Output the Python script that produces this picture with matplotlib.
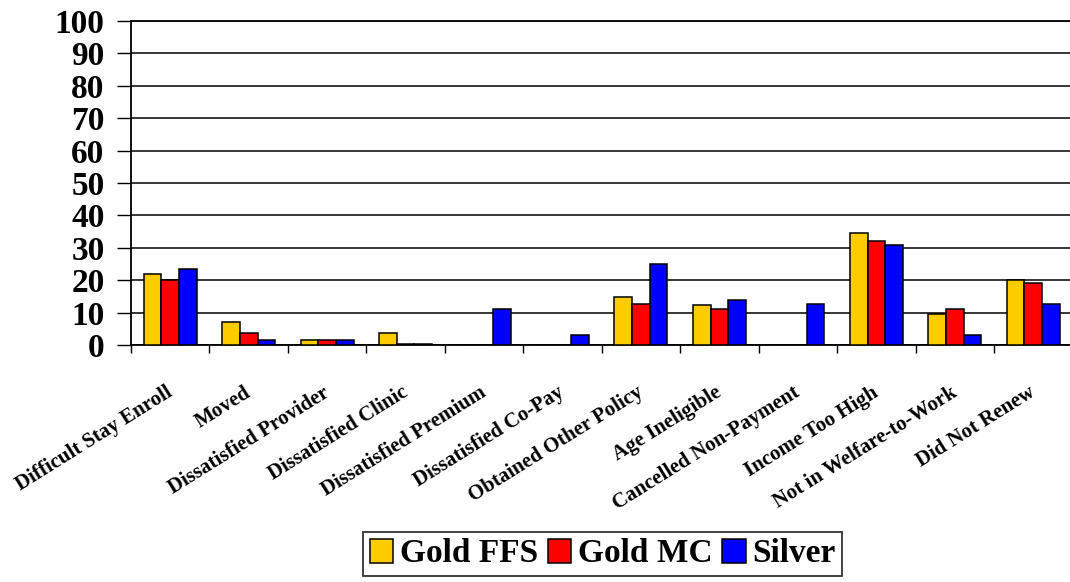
import numpy as np
import matplotlib.pyplot as plt
import matplotlib.transforms as mtransforms

# Reasons for leaving the program, percent by plan type
reasons = ["Difficult Stay Enroll", "Moved", "Dissatisfied Provider",
           "Dissatisfied Clinic", "Dissatisfied Premium", "Dissatisfied Co-Pay",
           "Obtained Other Policy", "Age Ineligible", "Cancelled Non-Payment",
           "Income Too High", "Not in Welfare-to-Work", "Did Not Renew"]
gold_ffs = [21.8, 7.0, 1.4, 3.6, 0.0, 0.0, 14.8, 12.2, 0.0, 34.6, 9.5, 20.0]
gold_mc = [20.0, 3.6, 1.4, 0.4, 0.0, 0.0, 12.7, 11.2, 0.0, 32.0, 11.2, 19.2]
silver = [23.4, 1.6, 1.4, 0.4, 11.2, 3.2, 24.9, 13.8, 12.7, 30.8, 3.2, 12.7]
series_names = ["Gold FFS", "Gold MC", "Silver"]
colors = ["#FFCC00", "#FF0000", "#0000FF"]

plt.rcParams['font.family'] = 'Liberation Serif'
plt.rcParams['font.weight'] = 'bold'

fig = plt.figure(figsize=(10.7, 5.82), dpi=100)
ax = fig.add_axes([131 / 1070, 1 - 345 / 582, 941.5 / 1070, 324 / 582])

x = np.arange(len(reasons))
w = 0.225
for k, (vals, name, c) in enumerate(zip([gold_ffs, gold_mc, silver], series_names, colors)):
    ax.bar(x + (k - 1) * w, vals, w, color=c, edgecolor='black', linewidth=1.1,
           label=name, zorder=3)

ax.set_xlim(-0.5, len(reasons) - 0.5)
ax.set_ylim(0, 100)
ax.set_yticks(np.arange(0, 101, 10))
ax.yaxis.grid(True, color='black', linewidth=1.1, zorder=0)

ax.tick_params(axis='y', direction='out', length=10, width=1, pad=9, labelsize=24)
ax.set_xticks(x)
ax.set_xticklabels(reasons, rotation=32, ha='right', rotation_mode='anchor',
                   fontsize=15)
ax.tick_params(axis='x', which='major', length=0, pad=27)
# nudge the slanted labels a little to the left
shift = mtransforms.ScaledTranslation(-5 / 100, 0, fig.dpi_scale_trans)
for lab in ax.get_xticklabels():
    lab.set_transform(lab.get_transform() + shift)
ax.set_xticks(np.arange(-0.5, len(reasons) - 0.5, 1.0), minor=True)
ax.tick_params(axis='x', which='minor', direction='out', length=6, width=1)

for s in ['left', 'bottom', 'top']:
    ax.spines[s].set_linewidth(1.3)
    ax.spines[s].set_color('black')
ax.spines['right'].set_visible(False)

leg = ax.legend(loc='center', bbox_to_anchor=(602.5 / 1070, 1 - 554 / 582),
                bbox_transform=fig.transFigure, ncol=3, fontsize=24,
                frameon=True, fancybox=False, edgecolor='black',
                handlelength=0.7, handleheight=0.7, handletextpad=0.2,
                columnspacing=0.3, borderpad=0.2, borderaxespad=0)
leg.get_frame().set_linewidth(1.3)

fig.savefig("out.png", dpi=100)
